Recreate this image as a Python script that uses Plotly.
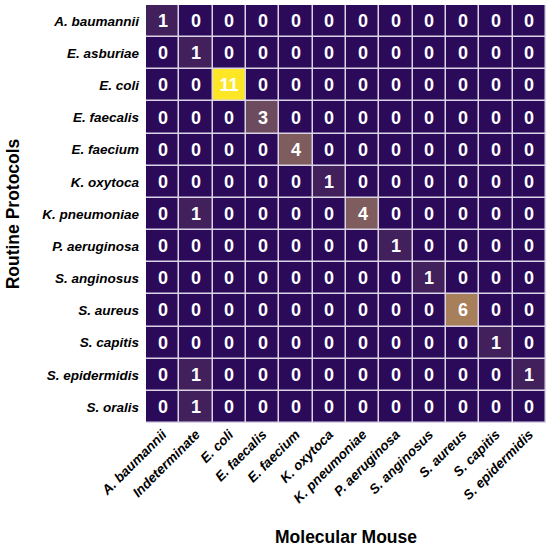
import plotly.graph_objects as go

rows = ["A. baumannii", "E. asburiae", "E. coli", "E. faecalis", "E. faecium",
        "K. oxytoca", "K. pneumoniae", "P. aeruginosa", "S. anginosus",
        "S. aureus", "S. capitis", "S. epidermidis", "S. oralis"]
cols = ["A. baumannii", "Indeterminate", "E. coli", "E. faecalis", "E. faecium",
        "K. oxytoca", "K. pneumoniae", "P. aeruginosa", "S. anginosus",
        "S. aureus", "S. capitis", "S. epidermidis"]
values = [
    [1, 0, 0, 0, 0, 0, 0, 0, 0, 0, 0, 0],
    [0, 1, 0, 0, 0, 0, 0, 0, 0, 0, 0, 0],
    [0, 0, 11, 0, 0, 0, 0, 0, 0, 0, 0, 0],
    [0, 0, 0, 3, 0, 0, 0, 0, 0, 0, 0, 0],
    [0, 0, 0, 0, 4, 0, 0, 0, 0, 0, 0, 0],
    [0, 0, 0, 0, 0, 1, 0, 0, 0, 0, 0, 0],
    [0, 1, 0, 0, 0, 0, 4, 0, 0, 0, 0, 0],
    [0, 0, 0, 0, 0, 0, 0, 1, 0, 0, 0, 0],
    [0, 0, 0, 0, 0, 0, 0, 0, 1, 0, 0, 0],
    [0, 0, 0, 0, 0, 0, 0, 0, 0, 6, 0, 0],
    [0, 0, 0, 0, 0, 0, 0, 0, 0, 0, 1, 0],
    [0, 1, 0, 0, 0, 0, 0, 0, 0, 0, 0, 1],
    [0, 1, 0, 0, 0, 0, 0, 0, 0, 0, 0, 0],
]

xi = list(range(len(cols)))
yi = list(range(len(rows)))

fig = go.Figure(go.Heatmap(
    z=values, x=xi, y=yi,
    text=[[str(v) for v in r] for r in values],
    texttemplate="<b>%{text}</b>",
    textfont=dict(family="Liberation Sans, Arial", size=18, color="white"),
    colorscale=[[0, "#2b0a5a"], [0.27, "#6b4a5e"], [0.55, "#a8805a"], [1, "#fce625"]],
    zmin=0, zmax=11,
    showscale=False,
    xgap=1.5, ygap=1.5,
    hoverinfo="skip",
))

fig.update_layout(
    width=550, height=547,
    margin=dict(l=146, r=4, t=5, b=124, autoexpand=False),
    paper_bgcolor="white",
    plot_bgcolor="#ddd3e6",
    font=dict(family="Liberation Sans, Arial", color="black"),
    xaxis=dict(
        tickmode="array", tickvals=xi,
        ticktext=["<b><i>%s</i></b>" % c for c in cols],
        tickangle=-45, tickfont=dict(size=13.5),
        showgrid=False, zeroline=False, ticks="", ticklen=0,
        title=dict(text="<b>Molecular Mouse</b>", font=dict(size=17.5), standoff=28),
        range=[-0.5, len(cols) - 0.5],
        automargin=False,
    ),
    yaxis=dict(
        tickmode="array", tickvals=yi,
        ticktext=["<b><i>%s</i></b>" % r for r in rows],
        autorange="reversed", tickfont=dict(size=13.5),
        showgrid=False, zeroline=False, ticks="",
        ticklabelstandoff=6,
        title=dict(text="<b>Routine Protocols</b>", font=dict(size=17.5), standoff=18),
        automargin=False,
    ),
)

fig.write_html("out.html", config={"displayModeBar": False},
               post_script="document.body.style.margin='0';")
